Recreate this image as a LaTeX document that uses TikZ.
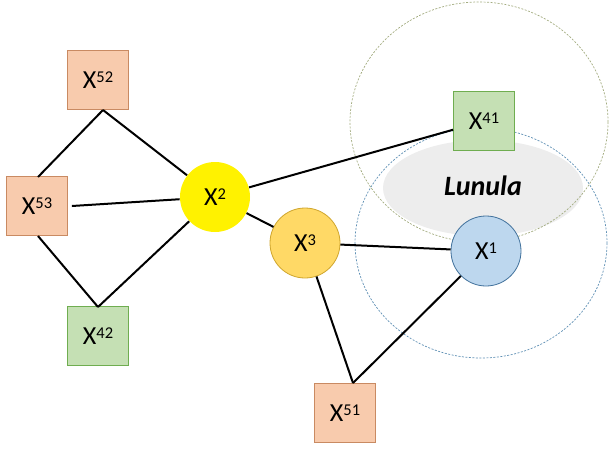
\documentclass[tikz,border=0pt]{standalone}
\usepackage{fontspec}
\setmainfont{Carlito}
\definecolor{salmonfill}{HTML}{F8CBAD}
\definecolor{salmonline}{HTML}{C98A62}
\definecolor{greenfill}{HTML}{C5E0B4}
\definecolor{greenline}{HTML}{6FAD50}
\definecolor{goldfill}{HTML}{FFD966}
\definecolor{goldline}{HTML}{CFA52C}
\definecolor{bluefill}{HTML}{BDD7EE}
\definecolor{blueline}{HTML}{41719C}
\definecolor{lunulafill}{HTML}{EDEDED}
\definecolor{greendash}{HTML}{A3AC80}
\definecolor{bluedash}{HTML}{5F90B4}
\newcommand\xlab[1]{X\raisebox{6pt}{\fontsize{16.5}{16.5}\selectfont #1}}
\tikzset{
  basenode/.style={font=\fontsize{26}{28}\selectfont, inner sep=0pt, line width=0.8pt},
  sqbox/.style={basenode, rectangle, minimum width=61pt, minimum height=59pt},
  salmonbox/.style={sqbox, fill=salmonfill, draw=salmonline},
  greenbox/.style={sqbox, fill=greenfill, draw=greenline},
  rnode/.style={basenode, circle, minimum size=70pt},
  edge/.style={line width=2pt, black},
  dashring/.style={line width=0.7pt, dash pattern=on 2pt off 1.5pt}
}
\begin{document}
\begin{tikzpicture}[x=1pt,y=-1pt]
\useasboundingbox (0,0) rectangle (609,450);
% lunula
\fill[lunulafill] (483,188) ellipse [x radius=100, y radius=48];
\node[font=\fontsize{28}{30}\selectfont\bfseries\itshape, inner sep=0pt] (lun) at (483,186) {Lunula};
% dashed rings
\draw[dashring, draw=greendash] (479,122) ellipse [x radius=129, y radius=120];
\draw[dashring, draw=bluedash] (481,243) ellipse [x radius=126, y radius=115];
% nodes
\node[salmonbox] (x52) at (98,80) {\xlab{52}};
\node[salmonbox] (x53) at (37,206) {\xlab{53}};
\node[greenbox] (x42) at (98,336) {\xlab{42}};
\node[greenbox] (x41) at (484,121) {\xlab{41}};
\node[salmonbox] (x51) at (345,413) {\xlab{51}};
\node[rnode, fill=yellow] (x2) at (215,197) {\xlab{2}};
\node[rnode, fill=goldfill, draw=goldline] (x3) at (305,243) {\xlab{3}};
\node[rnode, fill=bluefill, draw=blueline] (x1) at (486,251) {\xlab{1}};
\coordinate (x52b) at (103,110);
\coordinate (x53t) at (38,177);
\coordinate (x53b) at (38,236);
\coordinate (x42t) at (98,307);
\coordinate (x51t) at (353,383);
% edges
\draw[edge] (x52b) -- (x53t);
\draw[edge] (x52b) -- (x2);
\draw[edge] ([xshift=4pt]x53.east) -- (x2);
\draw[edge] (x53b) -- (x42t);
\draw[edge] (x2) -- (x42t);
\draw[edge] (x2) -- (x41);
\draw[edge] (x2) -- (x3);
\draw[edge] (x3) -- (x1);
\draw[edge] (x3) -- (x51t);
\draw[edge] (x1) -- (x51t);
\end{tikzpicture}
\end{document}
